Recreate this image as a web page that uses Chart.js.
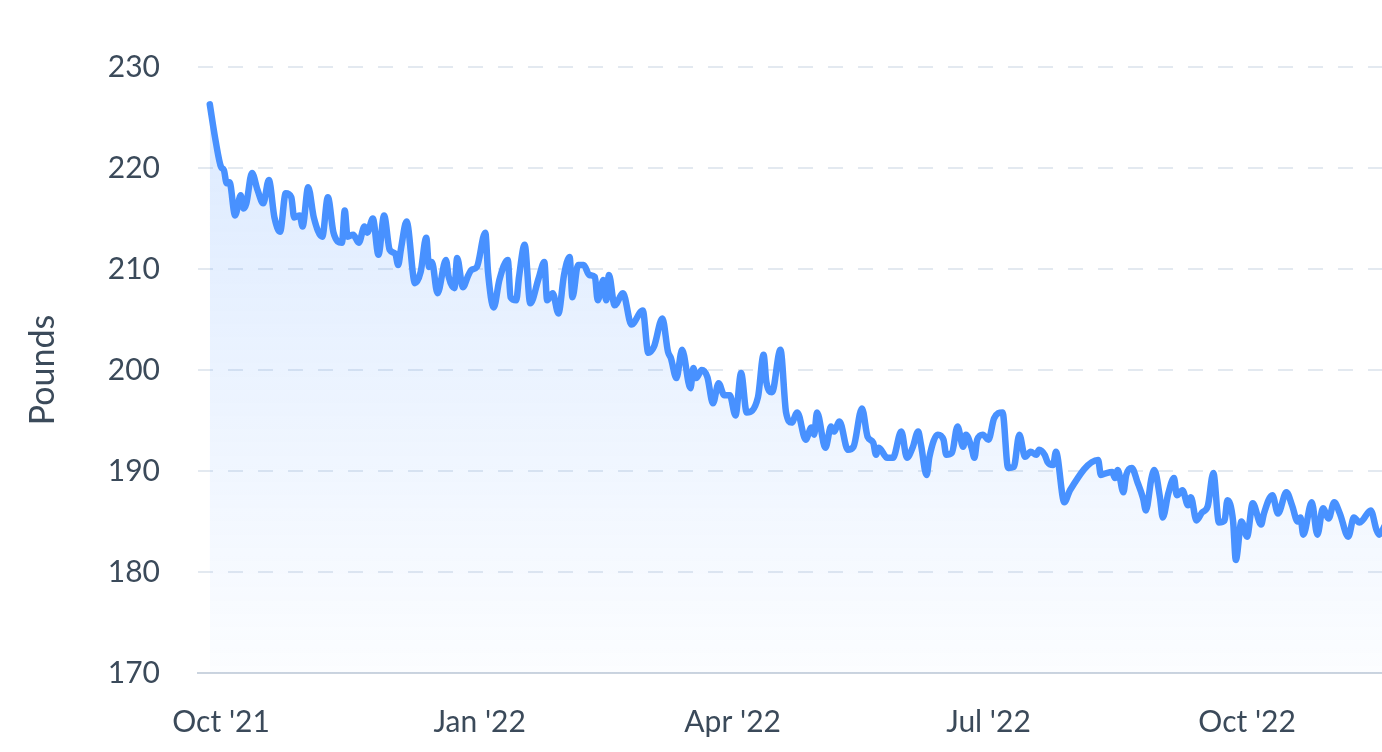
<!DOCTYPE html>
<html>
<head>
<meta charset="utf-8">
<title>Weight</title>
<script src="https://cdn.jsdelivr.net/npm/chart.js@4"></script>
<style>
  html, body { margin: 0; padding: 0; background: #fff; }
  #wrap { width: 1382px; height: 752px; }
</style>
</head>
<body>
<div id="wrap"><canvas id="weight_chart" width="1382" height="752"></canvas></div>
<script>
// days since Oct 1 2021
const days = [
  -4, -2, 0, 1, 2, 3, 5, 7, 8, 9,
  11, 13, 15, 17, 19, 21, 23, 25, 26, 28,
  29, 31, 33, 36, 38, 40, 43, 44, 45, 47,
  49, 51, 52, 54, 56, 58, 60, 62, 63, 64,
  66, 69, 71, 73, 74, 75, 77, 80, 81, 83,
  84, 86, 88, 89, 91, 94, 95, 97, 99, 102,
  103, 105, 106, 108, 110, 113, 115, 116, 118, 120,
  122, 124, 125, 127, 129, 131, 133, 134, 136, 137,
  138, 140, 143, 146, 150, 152, 154, 157, 159, 160,
  162, 164, 167, 168, 169, 171, 173, 175, 177, 179,
  181, 183, 185, 187, 191, 193, 194, 196, 199, 201,
  203, 205, 208, 210, 211, 212, 215, 217, 218, 220,
  223, 225, 228, 230, 232, 233, 234, 237, 239, 242,
  244, 246, 248, 249, 251, 252, 255, 257, 258, 260,
  262, 264, 265, 267, 268, 269, 271, 273, 275, 278,
  280, 282, 284, 286, 288, 290, 291, 293, 294, 296,
  297, 300, 302, 312, 313, 315, 317, 318, 319, 321,
  322, 324, 326, 328, 329, 331, 332, 334, 335, 337,
  339, 340, 342, 344, 345, 347, 349, 351, 353, 355,
  357, 358, 360, 361, 363, 365, 367, 370, 371, 374,
  376, 379, 381, 383, 384, 385, 388, 390, 392, 394,
  396, 398, 401, 403, 405, 406, 409, 411, 412, 414
];

const weights = [
  226.3, 222.8, 220.1, 219.8, 218.5, 218.6, 215.3, 217.3, 216.0, 216.5,
  219.5, 217.8, 216.5, 218.8, 215.1, 213.7, 217.5, 217.1, 215.1, 215.3,
  214.2, 218.1, 215.1, 213.2, 217.1, 213.6, 212.6, 215.8, 213.2, 213.4,
  212.6, 214.2, 213.6, 215.0, 211.4, 215.3, 211.9, 211.5, 210.4, 212.0,
  214.7, 208.6, 209.7, 213.1, 210.2, 210.7, 207.6, 210.9, 209.2, 208.1,
  211.1, 208.2, 209.4, 209.9, 210.2, 213.6, 209.6, 206.2, 208.9, 210.9,
  207.2, 206.9, 209.2, 212.4, 206.6, 209.1, 210.7, 206.9, 207.6, 205.6,
  209.4, 211.2, 207.2, 210.4, 210.4, 209.4, 209.2, 206.9, 208.9, 206.9,
  209.4, 206.4, 207.6, 204.5, 205.9, 201.7, 202.3, 205.1, 201.8, 201.2,
  199.2, 202.0, 198.2, 200.2, 199.2, 200.0, 199.3, 196.7, 198.7, 197.5,
  197.5, 195.5, 199.7, 195.8, 197.3, 201.5, 198.8, 197.8, 202.0, 195.8,
  194.8, 195.8, 193.1, 194.3, 193.6, 195.8, 192.3, 194.4, 193.9, 194.9,
  192.1, 192.4, 196.2, 193.4, 192.8, 191.6, 192.3, 191.3, 191.3, 193.9,
  191.3, 192.3, 193.9, 192.6, 189.6, 191.4, 193.6, 193.1, 191.6, 191.8,
  194.4, 192.4, 193.6, 192.3, 191.3, 193.1, 193.6, 193.1, 195.2, 195.8,
  190.3, 190.4, 193.6, 191.4, 191.9, 191.6, 192.1, 191.6, 190.9, 190.6,
  191.9, 186.9, 188.1, 191.1, 189.6, 189.8, 189.9, 189.3, 190.1, 187.9,
  189.6, 190.3, 188.9, 187.3, 186.1, 189.3, 190.1, 187.4, 185.4, 187.8,
  189.3, 187.6, 188.1, 186.6, 187.4, 185.1, 185.9, 186.5, 189.8, 184.9,
  185.1, 187.1, 185.1, 181.2, 185.0, 183.5, 186.8, 184.7, 185.8, 187.6,
  185.8, 187.9, 186.6, 185.0, 185.4, 183.7, 186.9, 183.7, 186.3, 185.3,
  186.9, 185.8, 183.5, 185.4, 184.9, 185.1, 186.1, 184.2, 183.7, 184.6
];

// x axis ticks (first of the month)
const tickDays = [0, 92, 182, 273, 365];
const tickLabels = ["Oct '21", "Jan '22", "Apr '22", "Jul '22", "Oct '22"];

const yTicks = [170, 180, 190, 200, 210, 220, 230];

const points = days.map((d, i) => ({ x: d, y: weights[i] }));

const textColor = "#3b4a5a";
const ctx = document.getElementById("weight_chart").getContext("2d");

function fillGradient(context) {
    const area = context.chart.chartArea;
    if (!area) return "rgba(71,145,255,0.1)";
    const g = context.chart.ctx.createLinearGradient(0, area.top, 0, area.bottom);
    g.addColorStop(0, "rgba(71,145,255,0.2)");
    g.addColorStop(1, "rgba(71,145,255,0.02)");
    return g;
}

const weightChart = new Chart(ctx, {
    type: "line",
    data: {
        datasets: [{
            label: "Weight",
            data: points,
            borderColor: "#4891ff",
            borderWidth: 6.5,
            backgroundColor: fillGradient,
            fill: "start",
            pointRadius: 0,
            cubicInterpolationMode: "monotone",
            borderCapStyle: "round",
            borderJoinStyle: "round"
        }]
    },
    options: {
        responsive: false,
        animation: false,
        layout: { padding: { top: 67, right: 0, bottom: 0, left: 0 } },
        plugins: { legend: { display: false }, tooltip: { enabled: false } },
        scales: {
            x: {
                type: "linear",
                min: -8.2,
                max: 413,
                grid: { display: false },
                border: { display: true, color: "#cbd4df", width: 2 },
                afterBuildTicks: (scale) => {
                    scale.ticks = tickDays.map(v => ({ value: v }));
                },
                afterFit: (scale) => { scale.height = 79; },
                ticks: {
                    padding: 23,
                    maxRotation: 0,
                    autoSkip: false,
                    color: textColor,
                    font: { family: "Lato", size: 30 },
                    callback: (value) => tickLabels[tickDays.indexOf(value)]
                }
            },
            y: {
                min: 170,
                max: 230,
                afterBuildTicks: (scale) => {
                    scale.ticks = yTicks.map(v => ({ value: v }));
                },
                afterFit: (scale) => { scale.width = 198; },
                grid: { color: "#e3e9f0", lineWidth: 2, drawTicks: false },
                border: { display: false, dash: [15, 15] },
                ticks: {
                    padding: 38,
                    color: textColor,
                    font: { family: "Lato", size: 30 }
                },
                title: {
                    display: true,
                    text: "Pounds",
                    color: textColor,
                    font: { family: "Lato", size: 34 },
                    padding: { top: 23, bottom: 0 }
                }
            }
        }
    }
});
</script>
</body>
</html>
